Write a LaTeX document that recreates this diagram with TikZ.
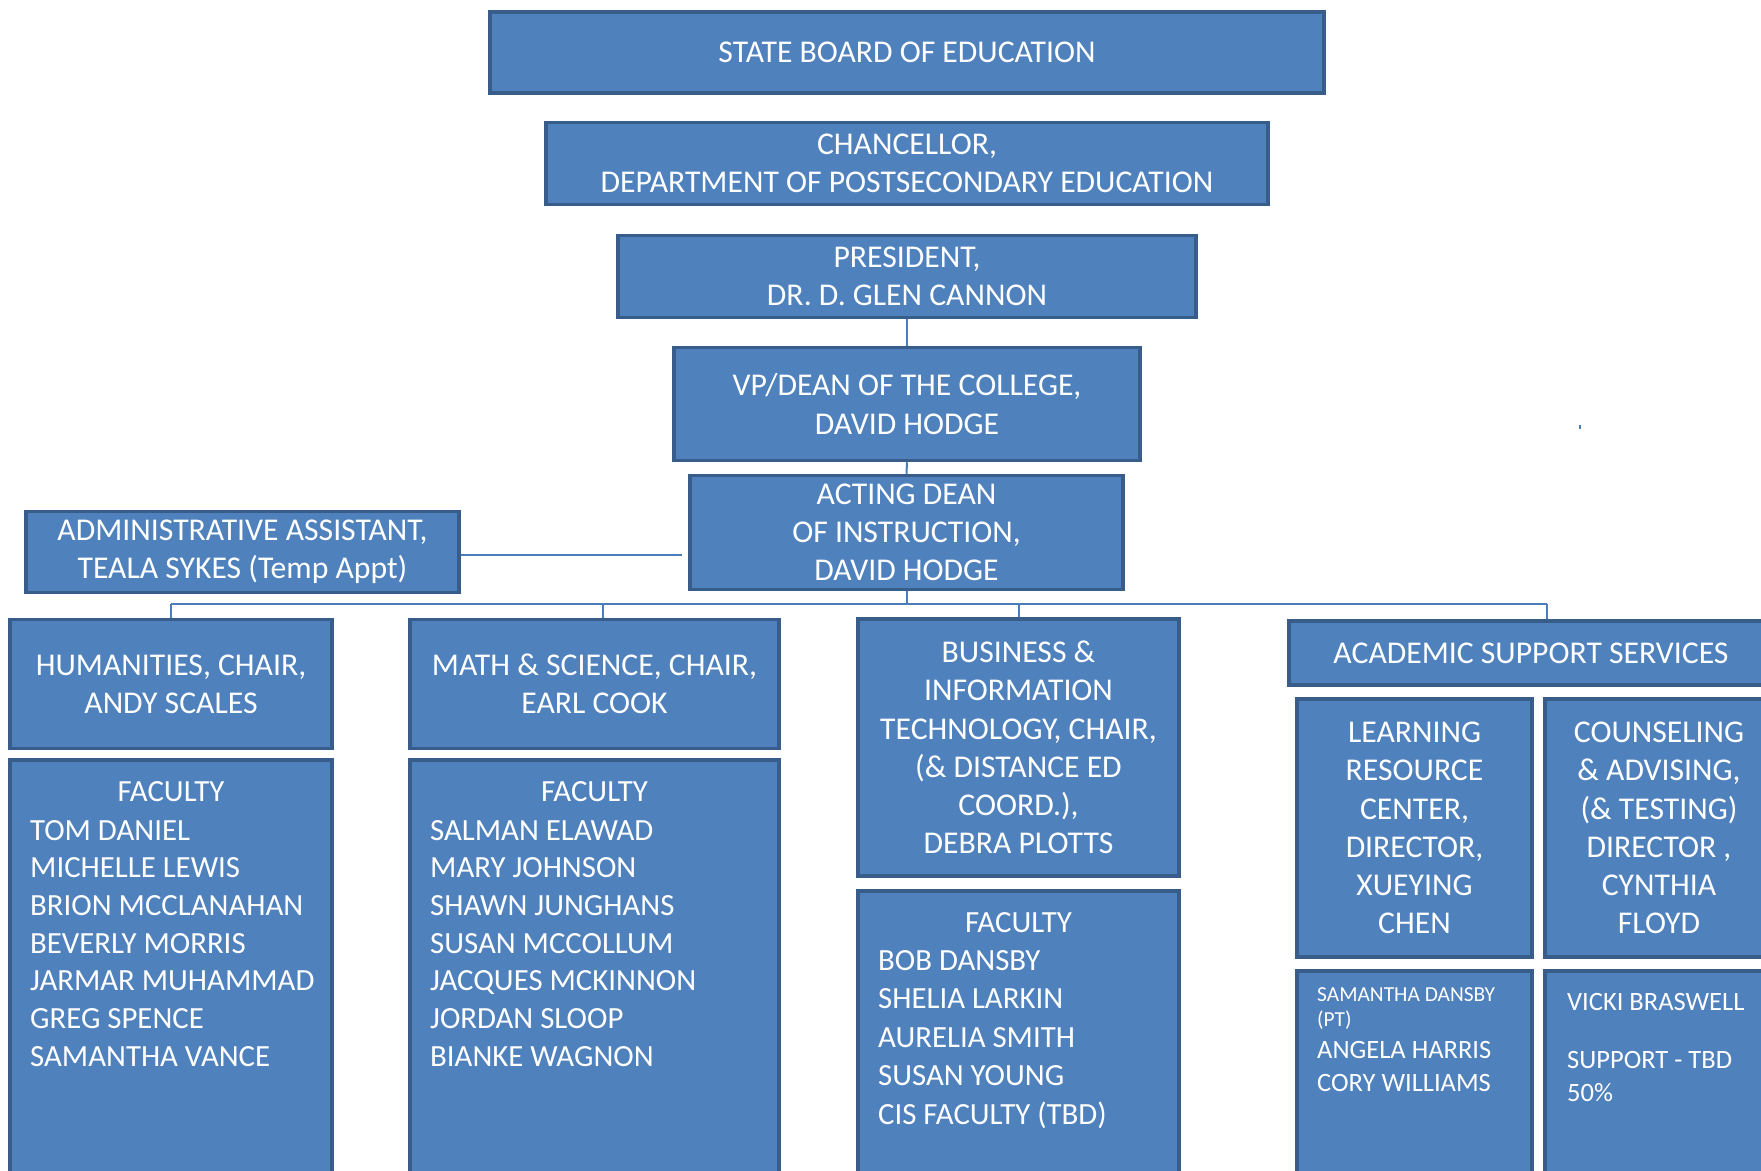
\documentclass[tikz,border=0pt]{standalone}
\usepackage{fontspec}
\setmainfont{Carlito}
\definecolor{boxfill}{HTML}{4F81BD}
\definecolor{boxline}{HTML}{385D8A}
\definecolor{connc}{HTML}{4A7EBB}
\begin{document}
\begin{tikzpicture}[x=1pt,y=-1pt,
  box/.style={draw=boxline, fill=boxfill, line width=3.5pt, inner sep=0pt, text=white, align=center, font=\fontsize{31.7}{38.2}\selectfont},
  txt/.style={text=white, inner sep=0pt, font=\fontsize{30.8}{37.7}\selectfont},
  smalltxt/.style={text=white, inner sep=0pt, font=\fontsize{21.4}{25}\selectfont},
  midtxt/.style={text=white, inner sep=0pt, font=\fontsize{26.5}{33}\selectfont},
  conn/.style={draw=connc, line width=2pt}]
\useasboundingbox (0,0) rectangle (1761,1170);
\clip (0,0) rectangle (1761,1170);
\fill[white] (0,0) rectangle (1761,1170);

% top chain
\node[box, minimum width=834, minimum height=81] (sb) at (907,52.5) {STATE BOARD OF EDUCATION};
\node[box, minimum width=722, minimum height=82] (ch) at (907,163.5) {CHANCELLOR,\\DEPARTMENT OF POSTSECONDARY EDUCATION};
\node[box, minimum width=578, minimum height=82] (pr) at (907,276.5) {PRESIDENT,\\DR. D. GLEN CANNON};
\node[box, minimum width=466, minimum height=113] (vp) at (907,404) {VP/DEAN OF THE COLLEGE,\\DAVID HODGE};
\node[box, minimum width=433, minimum height=114] (ad) at (906.5,532.5) {ACTING DEAN\\OF INSTRUCTION,\\DAVID HODGE};
\node[box, minimum width=433, minimum height=81] (aa) at (242.5,552) {ADMINISTRATIVE ASSISTANT,\\TEALA SYKES (Temp Appt)};

% divisions
\node[box, minimum width=322, minimum height=129] (hu) at (171,684) {HUMANITIES, CHAIR,\\ANDY SCALES};
\node[box, minimum width=322, minimum height=440] (hf) at (171,980) {};
\node[box, minimum width=369, minimum height=129] (ma) at (594.5,684) {MATH \& SCIENCE, CHAIR,\\EARL COOK};
\node[box, minimum width=369, minimum height=440] (mf) at (594.5,980) {};
\node[box, minimum width=321, minimum height=257] (bu) at (1018.5,747.5) {BUSINESS \&\\INFORMATION\\TECHNOLOGY, CHAIR,\\(\& DISTANCE ED\\COORD.),\\DEBRA PLOTTS};
\node[box, minimum width=321, minimum height=309] (bf) at (1018.5,1045.5) {};
\node[box, minimum width=484, minimum height=64] (as) at (1531,653) {ACADEMIC SUPPORT SERVICES};
\node[box, minimum width=235, minimum height=258] (lr) at (1414.5,828) {LEARNING\\RESOURCE\\CENTER,\\DIRECTOR,\\XUEYING\\CHEN};
\node[box, minimum width=228, minimum height=258] (co) at (1659,828) {COUNSELING\\\& ADVISING,\\(\& TESTING)\\DIRECTOR ,\\CYNTHIA\\FLOYD};
\node[box, minimum width=235, minimum height=229] (sd) at (1414.5,1085.5) {};
\node[box, minimum width=228, minimum height=229] (vb) at (1659,1085.5) {};

% faculty lists
\node[txt, anchor=base] (hft) at (171,801) {FACULTY};
\foreach \t [count=\i] in {TOM DANIEL, MICHELLE LEWIS, BRION MCCLANAHAN, BEVERLY MORRIS, JARMAR MUHAMMAD, GREG SPENCE, SAMANTHA VANCE}
  \node[txt, anchor=base west] (hf\i) at (30,{840+(\i-1)*37.7}) {\t};
\node[txt, anchor=base] (mft) at (594.5,801) {FACULTY};
\foreach \t [count=\i] in {SALMAN ELAWAD, MARY JOHNSON, SHAWN JUNGHANS, SUSAN MCCOLLUM, JACQUES MCKINNON, JORDAN SLOOP, BIANKE WAGNON}
  \node[txt, anchor=base west] (mf\i) at (430,{840+(\i-1)*37.7}) {\t};
\node[txt, anchor=base] (bft) at (1018.5,932) {FACULTY};
\foreach \t [count=\i] in {BOB DANSBY, SHELIA LARKIN, AURELIA SMITH, SUSAN YOUNG, CIS FACULTY (TBD)}
  \node[txt, anchor=base west] (bf\i) at (878,{970+(\i-1)*38.5}) {\t};

% support staff
\node[smalltxt, anchor=base west] (sd1) at (1317,1001) {SAMANTHA DANSBY};
\node[smalltxt, anchor=base west] (sd2) at (1317,1026) {(PT)};
\node[midtxt, anchor=base west] (sd3) at (1317,1058) {ANGELA HARRIS};
\node[midtxt, anchor=base west] (sd4) at (1317,1091) {CORY WILLIAMS};
\node[midtxt, anchor=base west] (vb1) at (1567,1010) {VICKI BRASWELL};
\node[midtxt, anchor=base west] (vb2) at (1567,1068) {SUPPORT - TBD};
\node[midtxt, anchor=base west] (vb3) at (1567,1101) {50\%};

% connectors
\draw[conn] (pr.south) -- (vp.north);
\draw[conn] (vp.south) -- (ad.north);
\coordinate (aaend) at (682,555);
\draw[conn] (aa.east |- aaend) -- (aaend);
\coordinate (busL) at (171,604);
\coordinate (busR) at (1547,604);
\coordinate (mdrop) at (603,604);
\draw[conn] (ad.south) -- (ad.south |- busL);
\draw[conn] (busL) -- (busR);
\draw[conn] (busL) -- (hu.north);
\draw[conn] (mdrop) -- (mdrop |- ma.north);
\draw[conn] (bu.north |- busL) -- (bu.north);
\draw[conn] (busR) -- (busR |- as.north);
\fill[connc] (1578.5,425) rectangle (1580.5,429);
\end{tikzpicture}
\end{document}
